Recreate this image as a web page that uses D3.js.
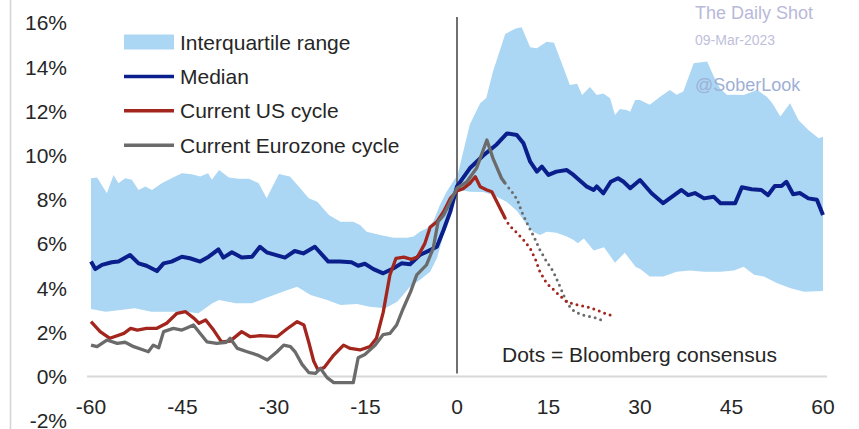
<!DOCTYPE html>
<html>
<head>
<meta charset="utf-8">
<script src="https://cdnjs.cloudflare.com/ajax/libs/d3/7.8.5/d3.min.js"></script>
<style>
  body { margin: 0; background: #fff; }
  text { font-family: "Liberation Sans", Arial, sans-serif; }
</style>
</head>
<body>
<div id="chart"></div>
<script>
// months relative to the start of the hiking cycle, values in %
var yTicks = [16, 14, 12, 10, 8, 6, 4, 2, 0, -2];
var xTicks = [-60, -45, -30, -15, 0, 15, 30, 45, 60];

var iqrUpper = [[-60, 8.97], [-59, 9.0], [-57.4, 8.29], [-56.3, 9.12], [-55.5, 8.74], [-54.4, 8.97],
  [-53.3, 8.9], [-52.2, 8.44], [-51.1, 8.6], [-50, 8.44], [-48.4, 8.74], [-46.8, 8.97], [-45.1, 9.2],
  [-43.5, 9.15], [-42.1, 9.05], [-40.8, 9.2], [-40.2, 8.9], [-39, 9.34], [-37.4, 9.0], [-35.8, 8.95],
  [-34.1, 8.95], [-32.5, 8.74], [-31.2, 8.06], [-29.2, 9.16], [-27.4, 9.05], [-25.7, 8.52], [-24.3, 8.06],
  [-22.9, 7.91], [-21, 7.31], [-19.1, 7.0], [-17, 7.0], [-15.9, 6.85], [-14.8, 6.55], [-12.6, 6.4],
  [-10.4, 6.28], [-8.2, 6.28], [-7.1, 6.33], [-6.1, 6.55], [-5, 6.7], [-3.9, 7.0], [-2.8, 7.76],
  [-1.7, 8.36], [-0.3, 8.97], [0, 9.0], [2.1, 11.4], [3.8, 12.36], [4.8, 12.6], [5.9, 13.8], [7.9, 15.5],
  [9.6, 15.75], [10.6, 15.8], [12, 14.9], [13.1, 14.85], [14.7, 15.15], [15.9, 15.1], [17.5, 13.94],
  [18.5, 13.19], [19.7, 13.25], [20.5, 12.74], [21.8, 13.1], [22.9, 12.74], [24, 12.8], [25.1, 12.59],
  [25.9, 11.83], [26.7, 12.1], [27.8, 12.06], [28.4, 11.98], [29.2, 12.51], [30, 12.51], [31.6, 12.3],
  [33.3, 12.66], [34.9, 12.96], [36, 12.75], [37.1, 12.9], [38.8, 14.17], [41, 14.25], [42.1, 13.57],
  [43.2, 13.0], [44.3, 12.74], [45.1, 12.75], [47, 12.74], [49.2, 12.96], [50.8, 12.66], [51.7, 12.36],
  [53, 11.76], [54.6, 12.36], [56, 11.6], [57.6, 11.15], [59.3, 10.78], [60, 10.85]];

var iqrLower = [[-60, 3.05], [-57.6, 2.93], [-55.5, 3.0], [-52.8, 3.09], [-50.1, 2.93], [-47.3, 2.93],
  [-44.6, 2.93], [-42.4, 2.86], [-40.1, 3.31], [-39, 3.46], [-36.3, 3.31], [-33.6, 3.31], [-30.9, 3.6],
  [-27.9, 3.9], [-26.2, 4.06], [-24, 3.69], [-21.3, 3.46], [-19.1, 3.24], [-16.4, 3.28], [-14.3, 3.16],
  [-11.8, 3.09], [-9.8, 3.38], [-7.7, 4.06], [-6.1, 4.37], [-4.4, 4.74], [-3.3, 5.35], [-2.2, 6.4],
  [-0.9, 7.76], [0, 8.5], [0.5, 8.44], [2.1, 8.36], [4.3, 8.35], [5.9, 8.21], [7, 8.06], [8.1, 7.91],
  [9.8, 7.5], [11.5, 6.86], [12.5, 6.55], [13.6, 6.4], [14.7, 6.55], [16.3, 6.5], [18, 6.33], [19.1, 6.18],
  [19.8, 6.03], [20.8, 6.25], [22.4, 5.7], [24.1, 5.85], [25.9, 5.15], [27.5, 5.6], [29.3, 4.95],
  [30.1, 4.85], [31.6, 4.52], [33.8, 4.52], [36, 4.74], [38.2, 4.8], [40.5, 4.74], [43.2, 4.74],
  [45.4, 4.8], [47, 4.97], [48.7, 4.6], [50.3, 4.52], [52.5, 4.22], [54.7, 3.99], [56.9, 3.84], [60, 3.87]];

var median = [[-60, 5.2], [-59.3, 4.86], [-58.2, 5.05], [-56.6, 5.17], [-55.5, 5.2], [-53.6, 5.5],
  [-52.2, 5.12], [-50.9, 5.01], [-49.2, 4.77], [-48.1, 5.12], [-46.8, 5.2], [-45.1, 5.42], [-43.8, 5.35],
  [-42.1, 5.2], [-40.7, 5.42], [-39.1, 5.75], [-38.3, 5.38], [-36.9, 5.62], [-35.3, 5.38], [-33.6, 5.42],
  [-32.3, 5.87], [-31.2, 5.62], [-28.2, 5.38], [-26.6, 5.68], [-25.2, 5.57], [-23.3, 5.87], [-21.1, 5.2],
  [-19.2, 5.2], [-17.3, 5.17], [-16.2, 5.01], [-15.1, 5.1], [-13.7, 4.86], [-12.1, 4.67], [-10.4, 4.9],
  [-9.1, 5.12], [-7.7, 5.08], [-6.1, 5.5], [-4.4, 5.72], [-3.3, 5.87], [-2.2, 6.63], [-1.1, 7.46],
  [0, 8.6], [2.1, 9.42], [4.3, 10.0], [6.5, 10.5], [8.2, 11.0], [9.8, 10.93], [10.9, 10.55], [12, 9.72],
  [13.1, 9.27], [13.9, 9.5], [15, 9.12], [16.3, 9.27], [18, 9.34], [19.1, 9.12], [21.3, 8.59],
  [22.4, 8.44], [22.9, 8.6], [24, 8.29], [25.2, 8.81], [26.4, 8.97], [27.3, 8.81], [28.4, 8.52],
  [30, 8.89], [31.9, 8.29], [33.8, 7.84], [36.8, 8.44], [37.9, 8.21], [39, 8.3], [40.5, 8.06],
  [42.1, 8.13], [43.2, 7.84], [45.6, 7.84], [46.7, 8.56], [48.3, 8.47], [49.9, 8.44], [51, 8.21],
  [52.1, 8.62], [53.2, 8.62], [54, 8.81], [55.1, 8.25], [56.2, 8.3], [57.6, 8.06], [59, 8.0], [60, 7.31]];

var usCycle = [[-60, 2.48], [-58.5, 2.03], [-56.9, 1.73], [-54.6, 1.95], [-53.5, 2.18], [-52.4, 2.1],
  [-50.9, 2.18], [-49.2, 2.18], [-47.6, 2.41], [-45.9, 2.86], [-44.5, 2.93], [-43.1, 2.63], [-42.3, 2.41],
  [-41.2, 2.56], [-39.9, 2.1], [-38.6, 1.57], [-37.2, 1.6], [-35.3, 2.03], [-33.9, 1.8], [-32.3, 1.85],
  [-29.5, 1.8], [-27.9, 2.15], [-26.2, 2.48], [-25.1, 2.33], [-24.3, 1.55], [-23.5, 0.7], [-22.8, 0.3],
  [-21.8, 0.4], [-20.2, 0.97], [-18.6, 1.42], [-17.5, 1.27], [-15.9, 1.2], [-14.3, 1.35], [-13.2, 1.73],
  [-12.1, 2.9], [-11, 4.59], [-10, 5.35], [-8.7, 5.4], [-7.5, 5.3], [-6.5, 5.4], [-5.3, 6.0], [-4.4, 6.75],
  [-3.3, 7.0], [-2.2, 7.46], [-1.1, 8.06], [0, 8.4], [1, 8.5], [2.1, 8.74], [3, 9.04], [3.8, 8.59],
  [4.9, 8.44], [5.7, 8.36], [6.8, 7.76], [7.9, 7.16]];

var usConsensus = [[7.9, 7.16], [8.5, 6.86], [9.9, 6.48], [10.9, 6.18], [12, 5.8], [12.9, 5.27],
  [13.6, 4.74], [14.7, 4.22], [15.9, 3.91], [16.9, 3.64], [18, 3.38], [19.7, 3.24], [21.3, 3.16],
  [22.9, 3.01], [24.5, 2.83], [25.9, 2.71]];

var ezCycle = [[-60, 1.42], [-59, 1.35], [-57.4, 1.65], [-55.7, 1.5], [-54.4, 1.55], [-53, 1.35],
  [-51.4, 1.2], [-50.6, 1.12], [-49.8, 1.42], [-48.9, 1.3], [-48.1, 2.03], [-46.5, 2.18], [-45.1, 2.1],
  [-44.3, 2.2], [-43.2, 2.33], [-42.1, 1.95], [-41, 1.57], [-39.4, 1.5], [-37.8, 1.55], [-37.2, 1.73],
  [-36, 1.27], [-34.4, 1.12], [-32.7, 0.97], [-31.1, 0.75], [-29.5, 1.12], [-28.4, 1.42], [-27.3, 1.35],
  [-26.5, 1.1], [-25.4, 0.55], [-24.3, 0.18], [-23.2, 0.14], [-22.4, 0.37], [-21.3, -0.05], [-20.2, -0.28],
  [-17, -0.28], [-16.2, 0.85], [-15.1, 1.0], [-13.4, 1.42], [-12.1, 1.9], [-11, 1.95], [-9.9, 2.33],
  [-8.8, 3.09], [-7.6, 3.84], [-6.6, 4.6], [-5, 5.05], [-3.9, 5.8], [-3.1, 7.0], [-2.2, 7.3], [-1.1, 7.91],
  [0, 8.52], [1.6, 8.81], [3.2, 9.42], [4.9, 10.7], [5.9, 9.87], [7.3, 8.97], [7.9, 8.74]];

var ezConsensus = [[7.9, 8.74], [9, 8.36], [9.9, 7.99], [10.6, 7.46], [11.5, 6.93], [12.6, 6.33],
  [13.6, 5.72], [14.7, 5.2], [15.8, 4.74], [16.9, 4.06], [17.7, 3.54], [18.5, 3.16], [19.3, 2.93],
  [20.7, 2.78], [22.4, 2.68], [24, 2.52]];

var legendItems = [
  {label: "Interquartile range", type: "band"},
  {label: "Median", type: "line", color: "#0b1f8c"},
  {label: "Current US cycle", type: "line", color: "#a3261e"},
  {label: "Current Eurozone cycle", type: "line", color: "#6b6b6b"}
];

var width = 859,
    height = 429;

var x = d3.scaleLinear().domain([-60, 60]).range([91, 823]);
var y = d3.scaleLinear().domain([-2, 16]).range([420.7, 22.9]);

var svg = d3.select("#chart").append("svg")
    .attr("width", width)
    .attr("height", height);

// left border of the screenshot
svg.append("line")
    .attr("x1", 10.5).attr("x2", 10.5)
    .attr("y1", 0).attr("y2", height)
    .style("stroke", "#d4d4d4")
    .style("stroke-width", 1.5);

var line = d3.line()
    .x(function(d) { return x(d[0]); })
    .y(function(d) { return y(d[1]); });

// interquartile band: upper edge, then lower edge backwards
svg.append("path")
    .attr("d", line(iqrUpper.concat(iqrLower.slice().reverse())) + "Z")
    .style("fill", "#abd7f4")
    .style("stroke", "none");

// zero line
svg.append("line")
    .attr("x1", 87).attr("x2", 827)
    .attr("y1", y(0)).attr("y2", y(0))
    .style("stroke", "#d8d8d8")
    .style("stroke-width", 2);

// vertical line at start of cycle
svg.append("line")
    .attr("x1", x(0)).attr("x2", x(0))
    .attr("y1", 17).attr("y2", y(0) - 3)
    .style("stroke", "#707070")
    .style("stroke-width", 2);

svg.append("path")
    .attr("d", line(median))
    .style("fill", "none")
    .style("stroke", "#0b1f8c")
    .style("stroke-width", 4)
    .style("stroke-linejoin", "round");

var dots = [
  {data: ezConsensus, color: "#6b6b6b"},
  {data: usConsensus, color: "#a3261e"}
];

dots.forEach(function(s) {
  svg.append("path")
      .attr("d", line(s.data))
      .style("fill", "none")
      .style("stroke", s.color)
      .style("stroke-width", 3)
      .style("stroke-linecap", "round")
      .style("stroke-dasharray", "0 5.8");
});

svg.append("path")
    .attr("d", line(usCycle))
    .style("fill", "none")
    .style("stroke", "#a3261e")
    .style("stroke-width", 3.3)
    .style("stroke-linejoin", "round");

svg.append("path")
    .attr("d", line(ezCycle))
    .style("fill", "none")
    .style("stroke", "#6b6b6b")
    .style("stroke-width", 3.3)
    .style("stroke-linejoin", "round");

// axes labels
svg.selectAll(".ylab")
    .data(yTicks)
  .enter().append("text")
    .attr("class", "ylab")
    .attr("x", 67)
    .attr("y", function(d) { return y(d); })
    .attr("dy", "0.36em")
    .attr("text-anchor", "end")
    .style("font-size", "21px")
    .style("fill", "#262626")
    .text(function(d) { return d + "%"; });

svg.selectAll(".xlab")
    .data(xTicks)
  .enter().append("text")
    .attr("class", "xlab")
    .attr("x", function(d) { return x(d); })
    .attr("y", 414)
    .attr("text-anchor", "middle")
    .style("font-size", "21px")
    .style("fill", "#262626")
    .text(function(d) { return d; });

// legend
var legend = svg.selectAll(".legend")
    .data(legendItems)
  .enter().append("g")
    .attr("class", "legend")
    .attr("transform", function(d, i) { return "translate(124," + (42 + i * 34.4) + ")"; });

legend.filter(function(d) { return d.type == "band"; })
  .append("rect")
    .attr("x", 0).attr("y", -7.5)
    .attr("width", 50).attr("height", 15)
    .style("fill", "#abd7f4");

legend.filter(function(d) { return d.type == "line"; })
  .append("line")
    .attr("x1", 0).attr("x2", 50)
    .style("stroke", function(d) { return d.color; })
    .style("stroke-width", 3.5);

legend.append("text")
    .attr("x", 56)
    .attr("dy", "0.36em")
    .style("font-size", "21px")
    .style("fill", "#262626")
    .text(function(d) { return d.label; });

svg.append("text")
    .attr("x", 502)
    .attr("y", 354)
    .attr("dy", "0.36em")
    .style("font-size", "21px")
    .style("fill", "#262626")
    .text("Dots = Bloomberg consensus");

// watermark
svg.append("text")
    .attr("x", 695).attr("y", 13).attr("dy", "0.36em")
    .style("font-size", "18px")
    .style("fill", "#b9b9d9")
    .text("The Daily Shot");

svg.append("text")
    .attr("x", 695).attr("y", 40).attr("dy", "0.36em")
    .style("font-size", "14px")
    .style("fill", "#c0c0dc")
    .text("09-Mar-2023");

svg.append("text")
    .attr("x", 695).attr("y", 85).attr("dy", "0.36em")
    .style("font-size", "18px")
    .style("fill", "#9fb0d6")
    .text("@SoberLook");
</script>
</body>
</html>
